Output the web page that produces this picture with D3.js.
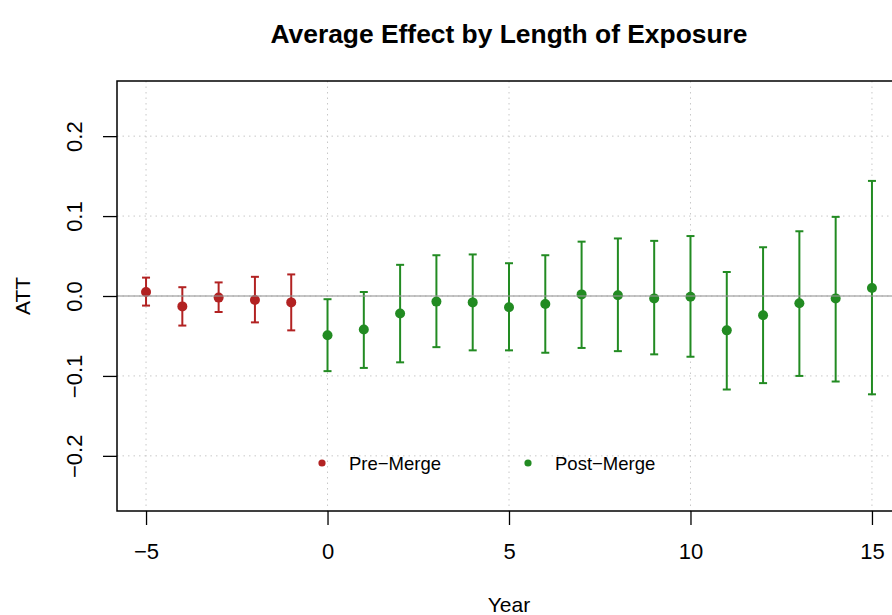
<!DOCTYPE html>
<html lang="en">
<head>
<meta charset="UTF-8">
<title>Average Effect by Length of Exposure</title>
<style>
  body { margin: 0; background: #fff; }
  svg { display: block; font-family: "Liberation Sans", Arial, Helvetica, sans-serif; }
</style>
</head>
<body>
<div id="chart"></div>
<script src="https://d3js.org/d3.v7.min.js"></script>
<script>
    // event-study estimates
    var years = [-5, -4, -3, -2, -1, 0, 1, 2, 3, 4, 5, 6, 7, 8, 9, 10, 11, 12, 13, 14, 15];
    var att   = [0.005, -0.013, -0.002, -0.005, -0.008, -0.049, -0.042, -0.022, -0.007, -0.008, -0.014,
                 -0.010, 0.002, 0.001, -0.003, -0.001, -0.043, -0.024, -0.009, -0.003, 0.010];
    var lower = [-0.012, -0.037, -0.020, -0.033, -0.043, -0.094, -0.090, -0.083, -0.064, -0.068, -0.068,
                 -0.071, -0.065, -0.069, -0.073, -0.076, -0.117, -0.109, -0.100, -0.107, -0.123];
    var upper = [0.023, 0.011, 0.017, 0.024, 0.027, -0.004, 0.005, 0.039, 0.051, 0.052, 0.041,
                 0.051, 0.068, 0.072, 0.069, 0.075, 0.030, 0.061, 0.081, 0.099, 0.144];
    var xTicks = [-5, 0, 5, 10, 15];
    var yTicks = [-0.2, -0.1, 0.0, 0.1, 0.2];
    var groups = ["Pre\u2212Merge", "Post\u2212Merge"];
    var colors = ["#b22222", "#228b22"];

    var width = 892, height = 615;
    var box = {left: 117, right: 901, top: 81, bottom: 511};

    var svg = d3.select("#chart").append("svg")
        .attr("width", width)
        .attr("height", height);

    var x = d3.scaleLinear().domain([-5.8, 15.8]).range([box.left, box.right]);
    var y = d3.scaleLinear().domain([-0.269, 0.269]).range([box.bottom, box.top]);

    var data = years.map(function (yr, i) {
        return {year: yr, att: att[i], lo: lower[i], hi: upper[i], g: yr < 0 ? 0 : 1};
    });

    // dotted grid
    var grid = svg.append("g")
        .attr("stroke", "#c8c8c8")
        .attr("stroke-width", 1)
        .attr("stroke-dasharray", "1.5,4");
    grid.selectAll("line.v").data(xTicks).enter().append("line")
        .attr("x1", function (d) { return x(d); })
        .attr("x2", function (d) { return x(d); })
        .attr("y1", box.top).attr("y2", box.bottom);
    grid.selectAll("line.h").data(yTicks).enter().append("line")
        .attr("y1", function (d) { return y(d); })
        .attr("y2", function (d) { return y(d); })
        .attr("x1", box.left).attr("x2", box.right);

    // error bars
    var bars = svg.append("g").attr("stroke-width", 2);
    var bar = bars.selectAll("g").data(data).enter().append("g")
        .attr("stroke", function (d) { return colors[d.g]; });
    bar.append("line")
        .attr("x1", function (d) { return x(d.year); })
        .attr("x2", function (d) { return x(d.year); })
        .attr("y1", function (d) { return y(d.lo); })
        .attr("y2", function (d) { return y(d.hi); });
    bar.append("line")
        .attr("x1", function (d) { return x(d.year) - 4; })
        .attr("x2", function (d) { return x(d.year) + 4; })
        .attr("y1", function (d) { return y(d.lo); })
        .attr("y2", function (d) { return y(d.lo); });
    bar.append("line")
        .attr("x1", function (d) { return x(d.year) - 4; })
        .attr("x2", function (d) { return x(d.year) + 4; })
        .attr("y1", function (d) { return y(d.hi); })
        .attr("y2", function (d) { return y(d.hi); });

    // points
    svg.append("g").selectAll("circle").data(data).enter().append("circle")
        .attr("cx", function (d) { return x(d.year); })
        .attr("cy", function (d) { return y(d.att); })
        .attr("r", 5)
        .attr("fill", function (d) { return colors[d.g]; });

    // zero reference line
    svg.append("line")
        .attr("x1", box.left).attr("x2", box.right)
        .attr("y1", y(0)).attr("y2", y(0))
        .attr("stroke", "rgba(150,150,150,0.55)")
        .attr("stroke-width", 2);

    // frame
    svg.append("rect")
        .attr("x", box.left).attr("y", box.top)
        .attr("width", box.right - box.left).attr("height", box.bottom - box.top)
        .attr("fill", "none").attr("stroke", "#000").attr("stroke-width", 1.5);

    // x axis
    var xAxis = svg.append("g")
        .attr("transform", "translate(0," + box.bottom + ")")
        .call(d3.axisBottom(x).tickValues(xTicks).tickSize(14).tickSizeOuter(0)
            .tickFormat(d3.format("d")));
    xAxis.select(".domain").remove();
    xAxis.selectAll("line").attr("stroke-width", 1.3);
    xAxis.selectAll("text")
        .attr("y", 48).attr("dy", 0)
        .style("font-size", "22px").attr("fill", "#000");

    // y axis
    var yAxis = svg.append("g")
        .attr("transform", "translate(" + box.left + ",0)")
        .call(d3.axisLeft(y).tickValues(yTicks).tickSize(14).tickSizeOuter(0)
            .tickFormat(d3.format(".1f")));
    yAxis.select(".domain").remove();
    yAxis.selectAll("line").attr("stroke-width", 1.3);
    yAxis.selectAll("text")
        .attr("transform", "rotate(-90)")
        .attr("x", 0).attr("y", -35).attr("dy", 0)
        .attr("text-anchor", "middle")
        .style("font-size", "22px").attr("fill", "#000");

    // titles
    svg.append("text")
        .attr("x", (box.left + box.right) / 2).attr("y", 43)
        .attr("text-anchor", "middle")
        .style("font-size", "26.4px").style("font-weight", "bold")
        .text("Average Effect by Length of Exposure");
    svg.append("text")
        .attr("x", (box.left + box.right) / 2).attr("y", 612)
        .attr("text-anchor", "middle")
        .style("font-size", "21px")
        .text("Year");
    svg.append("text")
        .attr("transform", "translate(30," + ((box.top + box.bottom) / 2) + ") rotate(-90)")
        .attr("text-anchor", "middle")
        .style("font-size", "21px")
        .text("ATT");

    // legend
    var legX = [322, 528];
    var leg = svg.append("g").selectAll("g").data(groups).enter().append("g")
        .attr("transform", function (d, i) { return "translate(" + legX[i] + ",463)"; });
    leg.append("circle").attr("r", 3.6).attr("fill", function (d, i) { return colors[i]; });
    leg.append("text")
        .attr("x", 27).attr("y", 7)
        .style("font-size", "18.5px")
        .text(function (d) { return d; });
</script>
</body>
</html>
